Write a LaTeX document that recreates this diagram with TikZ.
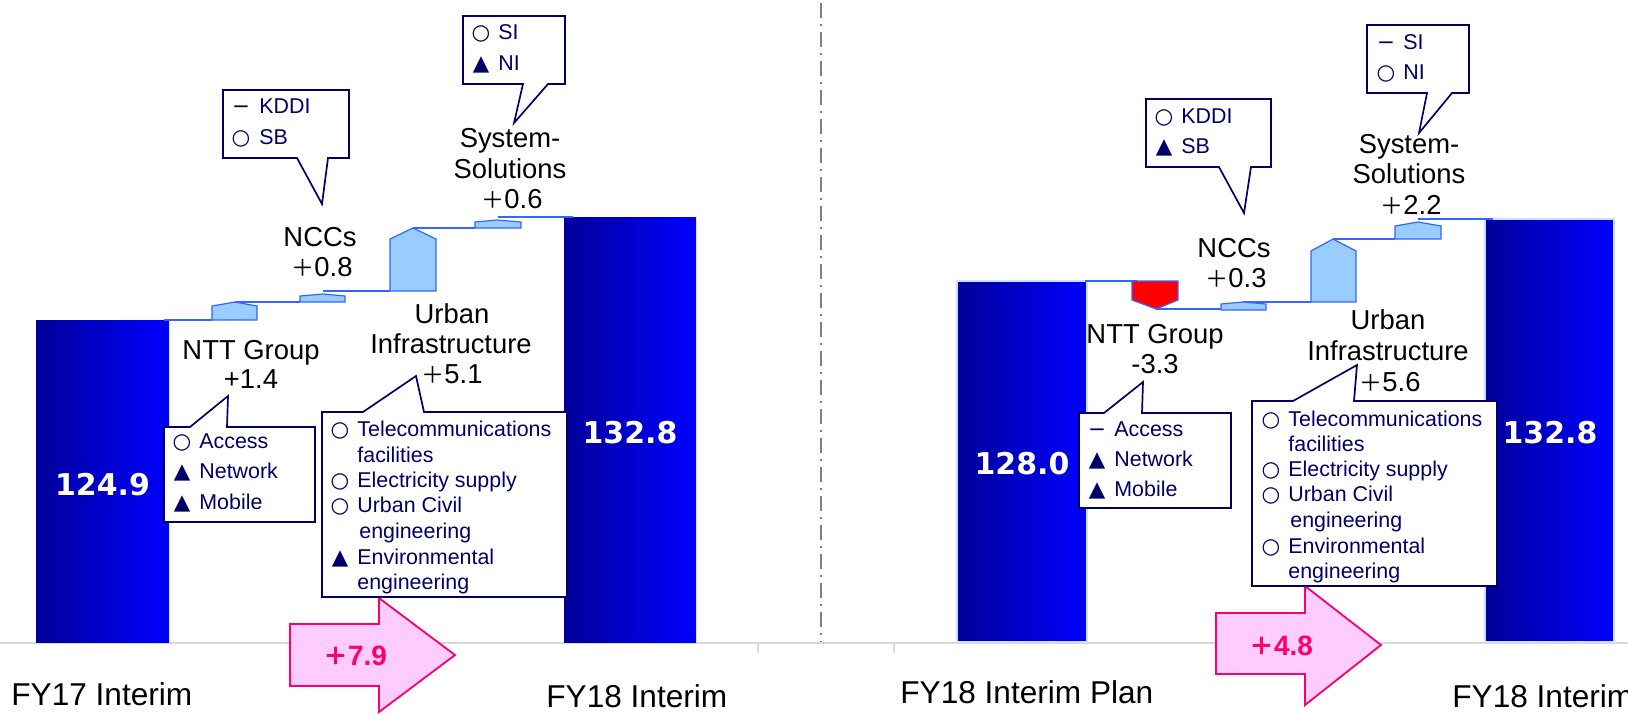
\documentclass[tikz,border=0pt]{standalone}
\usepackage{fontspec}
\setmainfont{Liberation Sans}
\newfontfamily\dejavu{DejaVu Sans}
\newfontfamily\cjk{Noto Sans CJK JP}
\definecolor{navy}{RGB}{0,0,102}
\definecolor{bardark}{RGB}{0,0,153}
\definecolor{barlight}{RGB}{0,0,255}
\definecolor{baredge}{RGB}{204,224,255}
\definecolor{stepfill}{RGB}{153,204,255}
\definecolor{stepline}{RGB}{51,102,255}
\definecolor{pinkfill}{RGB}{255,204,255}
\definecolor{pinkline}{RGB}{255,0,102}
\definecolor{axisgray}{RGB}{217,217,217}
\definecolor{divgray}{RGB}{128,128,128}
\newcommand\symC{○}
\newcommand\symT{▲}
\newcommand\symD{−}
\newcommand\fwplus{{\cjk\fontsize{11.5pt}{12pt}\selectfont ＋}}
\newcommand\fwplusb{{\cjk\bfseries\fontsize{12.5pt}{13pt}\selectfont ＋}}
\tikzset{
  lbl/.style={font=\fontsize{13.7pt}{15pt}\selectfont, anchor=base, inner sep=0pt},
  ctext/.style={font=\fontsize{10.7pt}{12pt}\selectfont, text=navy, anchor=base west, inner sep=0pt},
  csym/.style={font=\dejavu\fontsize{10.7pt}{12pt}\selectfont, text=navy, anchor=base, inner sep=0pt},
  axlbl/.style={font=\fontsize{15.8pt}{18pt}\selectfont, anchor=base west, inner sep=0pt},
  barval/.style={font=\dejavu\bfseries\fontsize{15pt}{18pt}\selectfont, text=white, anchor=base, inner sep=0pt},
  total/.style={font=\bfseries\fontsize{14pt}{16pt}\selectfont, text=pinkline, anchor=base, inner sep=0pt},
  callout/.style={draw=navy, line width=0.85pt, fill=white, line join=miter},
  stepup/.style={draw=stepline, fill=stepfill, line width=0.6pt},
  stepdown/.style={draw=stepline, fill=red, line width=0.6pt},
  link/.style={draw=stepline, line width=0.6pt},
  bigarrow/.style={draw=pinkline, fill=pinkfill, line width=0.9pt, line join=miter},
  bar/.style={left color=bardark, right color=barlight},
}
\newcommand\crow[6]{%
  \node[csym] (#1s) at (#2,#4) {#5};
  \node[ctext] (#1t) at (#3,#4) {#6};}
\begin{document}
\begin{tikzpicture}[x=0.5pt,y=-0.5pt]
\useasboundingbox (0,0) rectangle (1628,714);
% axis and divider
\draw[axisgray, line width=1pt] (0,643) -- (1628,643);
\draw[axisgray, line width=1pt] (758,643) -- (758,653);
\draw[axisgray, line width=1pt] (894,643) -- (894,653);
\draw[divgray, line width=0.65pt, dash pattern=on 7.5pt off 3pt on 1pt off 3pt] (821,3) -- (821,642);

% ---------- left panel ----------
\shade[bar] (36,320) rectangle (169,642);
\shade[bar] (564,217) rectangle (696,642);
\coordinate (a0) at (164,320); \coordinate (a1) at (212,320);
\coordinate (a2) at (235,302); \coordinate (a3) at (300,302);
\coordinate (a4) at (323,291); \coordinate (a5) at (390,291);
\coordinate (a6) at (413,228); \coordinate (a7) at (475,228);
\coordinate (a8) at (498,217); \coordinate (a9) at (573,217);
\draw[link] (a0) -- (a1);
\draw[link] (a2) -- (a3);
\draw[link] (a4) -- (a5);
\draw[link] (a6) -- (a7);
\draw[link] (a8) -- (a9);
\draw[stepup] (212,320) -- (212,306) -- (235,302) -- (257,306) -- (257,320) -- cycle;
\draw[stepup] (300,302) -- (300,296) -- (323,294) -- (345,296) -- (345,302) -- cycle;
\draw[stepup] (390,291) -- (390,239) -- (413,228) -- (436,239) -- (436,291) -- cycle;
\draw[stepup] (475,228) -- (475,222) -- (497,220) -- (521,222) -- (521,228) -- cycle;

\draw[bigarrow] (290,624) -- (379,624) -- (379,598) -- (455,655) -- (379,712) -- (379,686) -- (290,686) -- cycle;

\draw[callout] (223,90) -- (349,90) -- (349,158) -- (328,158) -- (322,204) -- (297,158) -- (223,158) -- cycle;
\draw[callout] (463,16) -- (565,16) -- (565,84) -- (548,84) -- (514,123) -- (523,84) -- (463,84) -- cycle;
\draw[callout] (164,427) -- (190,427) -- (228,396) -- (227,427) -- (315,427) -- (315,522) -- (164,522) -- cycle;
\draw[callout] (322,412) -- (363,412) -- (416,376) -- (424,412) -- (567,412) -- (567,597) -- (322,597) -- cycle;

\crow{lk1}{241}{259}{113}{\symD}{KDDI}
\crow{lk2}{241}{259}{144}{\symC}{SB}
\crow{ls1}{481}{498}{39}{\symC}{SI}
\crow{ls2}{481}{498}{70}{\symT}{NI}
\crow{ln1}{182}{199}{448}{\symC}{Access}
\crow{ln2}{182}{199}{478}{\symT}{Network}
\crow{ln3}{182}{199}{509}{\symT}{Mobile}
\crow{lu1}{340}{357}{436}{\symC}{Telecommunications}
\node[ctext] (lu1b) at (357,462) {facilities};
\crow{lu2}{340}{357}{487}{\symC}{Electricity supply}
\crow{lu3}{340}{357}{512}{\symC}{Urban Civil}
\node[ctext] (lu3b) at (359,538) {engineering};
\crow{lu4}{340}{357}{564}{\symT}{Environmental}
\node[ctext] (lu4b) at (357,589) {engineering};

\node[lbl] (lntt1) at (251,359) {NTT Group};
\node[lbl] (lntt2) at (251,388) {+1.4};
\node[lbl] (lncc1) at (320,246) {NCCs};
\node[lbl] (lncc2) at (322,276) {\fwplus 0.8};
\node[lbl] (lurb1) at (452,323) {Urban};
\node[lbl] (lurb2) at (451,353) {Infrastructure};
\node[lbl] (lurb3) at (452,383) {\fwplus 5.1};
\node[lbl] (lsys1) at (510,147) {System-};
\node[lbl] (lsys2) at (510,178) {Solutions};
\node[lbl] (lsys3) at (512,208) {\fwplus 0.6};

\node[barval] (lv1) at (102.5,495) {124.9};
\node[barval] (lv2) at (630,443) {132.8};
\node[total] (ltot) at (355,665) {\fwplusb 7.9};
\node[axlbl] (lax1) at (11,705) {FY17 Interim};
\node[axlbl] (lax2) at (546,707) {FY18 Interim};

% ---------- right panel ----------
\shade[bar, draw=baredge, line width=0.6pt] (957,281) rectangle (1087,642);
\shade[bar, draw=baredge, line width=0.6pt] (1485,219) rectangle (1614,642);
\coordinate (b0) at (1085,281); \coordinate (b1) at (1137,281);
\coordinate (b2) at (1156,309); \coordinate (b3) at (1221,309);
\coordinate (b4) at (1243,302); \coordinate (b5) at (1311,302);
\coordinate (b6) at (1333,239); \coordinate (b7) at (1395,239);
\coordinate (b8) at (1418,219); \coordinate (b9) at (1493,219);
\draw[link] (b0) -- (b1);
\draw[link] (b2) -- (b3);
\draw[link] (b4) -- (b5);
\draw[link] (b6) -- (b7);
\draw[link] (b8) -- (b9);
\draw[stepdown] (1132,281) -- (1178,281) -- (1178,300) -- (1156,309) -- (1132,300) -- cycle;
\draw[stepup] (1221,310) -- (1221,304) -- (1243,302) -- (1266,304) -- (1266,310) -- cycle;
\draw[stepup] (1311,302) -- (1311,251) -- (1333,239) -- (1356,251) -- (1356,302) -- cycle;
\draw[stepup] (1395,239) -- (1395,226) -- (1418,222) -- (1441,226) -- (1441,239) -- cycle;

\draw[bigarrow] (1216,613) -- (1305,613) -- (1305,586) -- (1381,645) -- (1305,705) -- (1305,674) -- (1216,674) -- cycle;

\draw[callout] (1146,99) -- (1271,99) -- (1271,167) -- (1251,167) -- (1244,213) -- (1219,167) -- (1146,167) -- cycle;
\draw[callout] (1367,25) -- (1469,25) -- (1469,93) -- (1452,93) -- (1419,133) -- (1427,93) -- (1367,93) -- cycle;
\draw[callout] (1079,413) -- (1104,413) -- (1143,382) -- (1142,413) -- (1231,413) -- (1231,508) -- (1079,508) -- cycle;
\draw[callout] (1252,401) -- (1293,401) -- (1357,365) -- (1354,401) -- (1497,401) -- (1497,586) -- (1252,586) -- cycle;

\crow{rk1}{1164}{1181}{123}{\symC}{KDDI}
\crow{rk2}{1164}{1181}{153}{\symT}{SB}
\crow{rs1}{1386}{1403}{49}{\symD}{SI}
\crow{rs2}{1386}{1403}{79}{\symC}{NI}
\crow{rn1}{1097}{1114}{436}{\symD}{Access}
\crow{rn2}{1097}{1114}{466}{\symT}{Network}
\crow{rn3}{1097}{1114}{496}{\symT}{Mobile}
\crow{ru1}{1271}{1288}{426}{\symC}{Telecommunications}
\node[ctext] (ru1b) at (1288,451) {facilities};
\crow{ru2}{1271}{1288}{476}{\symC}{Electricity supply}
\crow{ru3}{1271}{1288}{501}{\symC}{Urban Civil}
\node[ctext] (ru3b) at (1290,527) {engineering};
\crow{ru4}{1271}{1288}{553}{\symC}{Environmental}
\node[ctext] (ru4b) at (1288,578) {engineering};

\node[lbl] (rntt1) at (1155,343) {NTT Group};
\node[lbl] (rntt2) at (1155,373) {-3.3};
\node[lbl] (rncc1) at (1234,257) {NCCs};
\node[lbl] (rncc2) at (1236,287) {\fwplus 0.3};
\node[lbl] (rurb1) at (1388,329) {Urban};
\node[lbl] (rurb2) at (1388,360) {Infrastructure};
\node[lbl] (rurb3) at (1390,391) {\fwplus 5.6};
\node[lbl] (rsys1) at (1409,153) {System-};
\node[lbl] (rsys2) at (1409,183) {Solutions};
\node[lbl] (rsys3) at (1411,214) {\fwplus 2.2};

\node[barval] (rv1) at (1022,474) {128.0};
\node[barval] (rv2) at (1550,443) {132.8};
\node[total] (rtot) at (1281,655) {\fwplusb 4.8};
\node[axlbl] (rax1) at (900,703) {FY18 Interim Plan};
\node[axlbl] (rax2) at (1452,707) {FY18 Interim};
\end{tikzpicture}
\end{document}
